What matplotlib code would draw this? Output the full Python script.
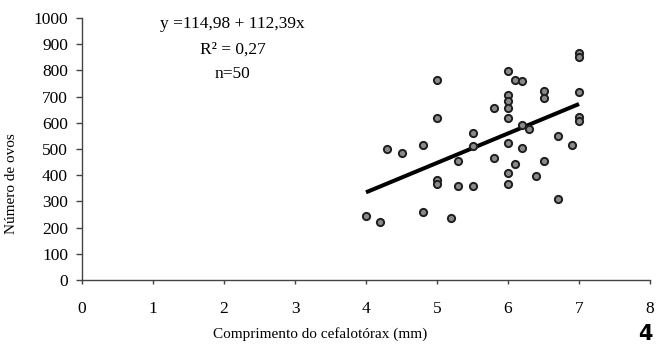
import numpy as np
import matplotlib.pyplot as plt

# comprimento do cefalotórax (mm) e número de ovos
comp = [4.0, 4.2, 4.3, 4.5, 4.8, 4.8,
        5.0, 5.0, 5.0, 5.0, 5.2, 5.3, 5.3,
        5.5, 5.5, 5.5, 5.8, 5.8,
        6.0, 6.0, 6.0, 6.0, 6.0, 6.0, 6.0, 6.0,
        6.1, 6.2, 6.2, 6.2, 6.3, 6.1, 6.4,
        6.5, 6.5, 6.5, 6.7, 6.7, 6.9,
        7.0, 7.0, 7.0, 7.0, 7.0]
ovos = [245, 220, 501, 483, 515, 258,
        765, 620, 380, 365, 235, 453, 357,
        560, 512, 357, 658, 467,
        797, 707, 684, 656, 617, 521, 408, 365,
        765, 761, 592, 505, 575, 444, 395,
        720, 694, 455, 551, 310, 515,
        867, 851, 717, 624, 607]

# reta de regressão
a = -114.98
b = 112.39
x_fit = [4.0, 7.0]

plt.rcParams['font.family'] = ['Liberation Serif', 'DejaVu Serif']

fig = plt.figure(figsize=(6.57, 3.46), dpi=100)
ax = fig.add_axes([0.1248, 0.1908, 0.8646, 0.7572])

x_line = np.array(x_fit)
ax.plot(x_line, a + b * x_line, color='black', lw=2.9, solid_capstyle='butt', zorder=2)
ax.plot(comp, ovos, 'o', ms=5.2, mfc='#8a8a8a', mec='#1e1e1e', mew=1.4, zorder=3)

ax.set_xlim(0, 8)
ax.set_ylim(0, 1000)
ax.set_xticks(range(0, 9))
ax.set_yticks(range(0, 1001, 100))
for s in ['top', 'right']:
    ax.spines[s].set_visible(False)
for s in ['left', 'bottom']:
    ax.spines[s].set_color('#444444')
    ax.spines[s].set_linewidth(1.0)
ax.tick_params(axis='y', direction='out', length=4, width=1, color='#444444',
               labelsize=12.5, pad=6)
ax.tick_params(axis='x', direction='out', length=3, width=1, color='#444444',
               labelsize=12.5, pad=12)

fig.text(0.018, 0.47, 'Número de ovos', rotation=90, fontsize=11,
         ha='center', va='center')
fig.text(0.487, 0.035, 'Comprimento do cefalotórax (mm)', fontsize=11,
         ha='center', va='center')

ax.text(0.265, 0.978, 'y =114,98 + 112,39x', transform=ax.transAxes,
        fontsize=12.5, ha='center', va='center')
ax.text(0.265, 0.878, 'R² = 0,27', transform=ax.transAxes,
        fontsize=12.5, ha='center', va='center')
ax.text(0.265, 0.785, 'n=50', transform=ax.transAxes,
        fontsize=12.5, ha='center', va='center')

fig.text(0.982, 0.035, '4', fontsize=15, fontweight='bold',
         family='DejaVu Sans', ha='center', va='center')

fig.savefig('out.png', dpi=100)
